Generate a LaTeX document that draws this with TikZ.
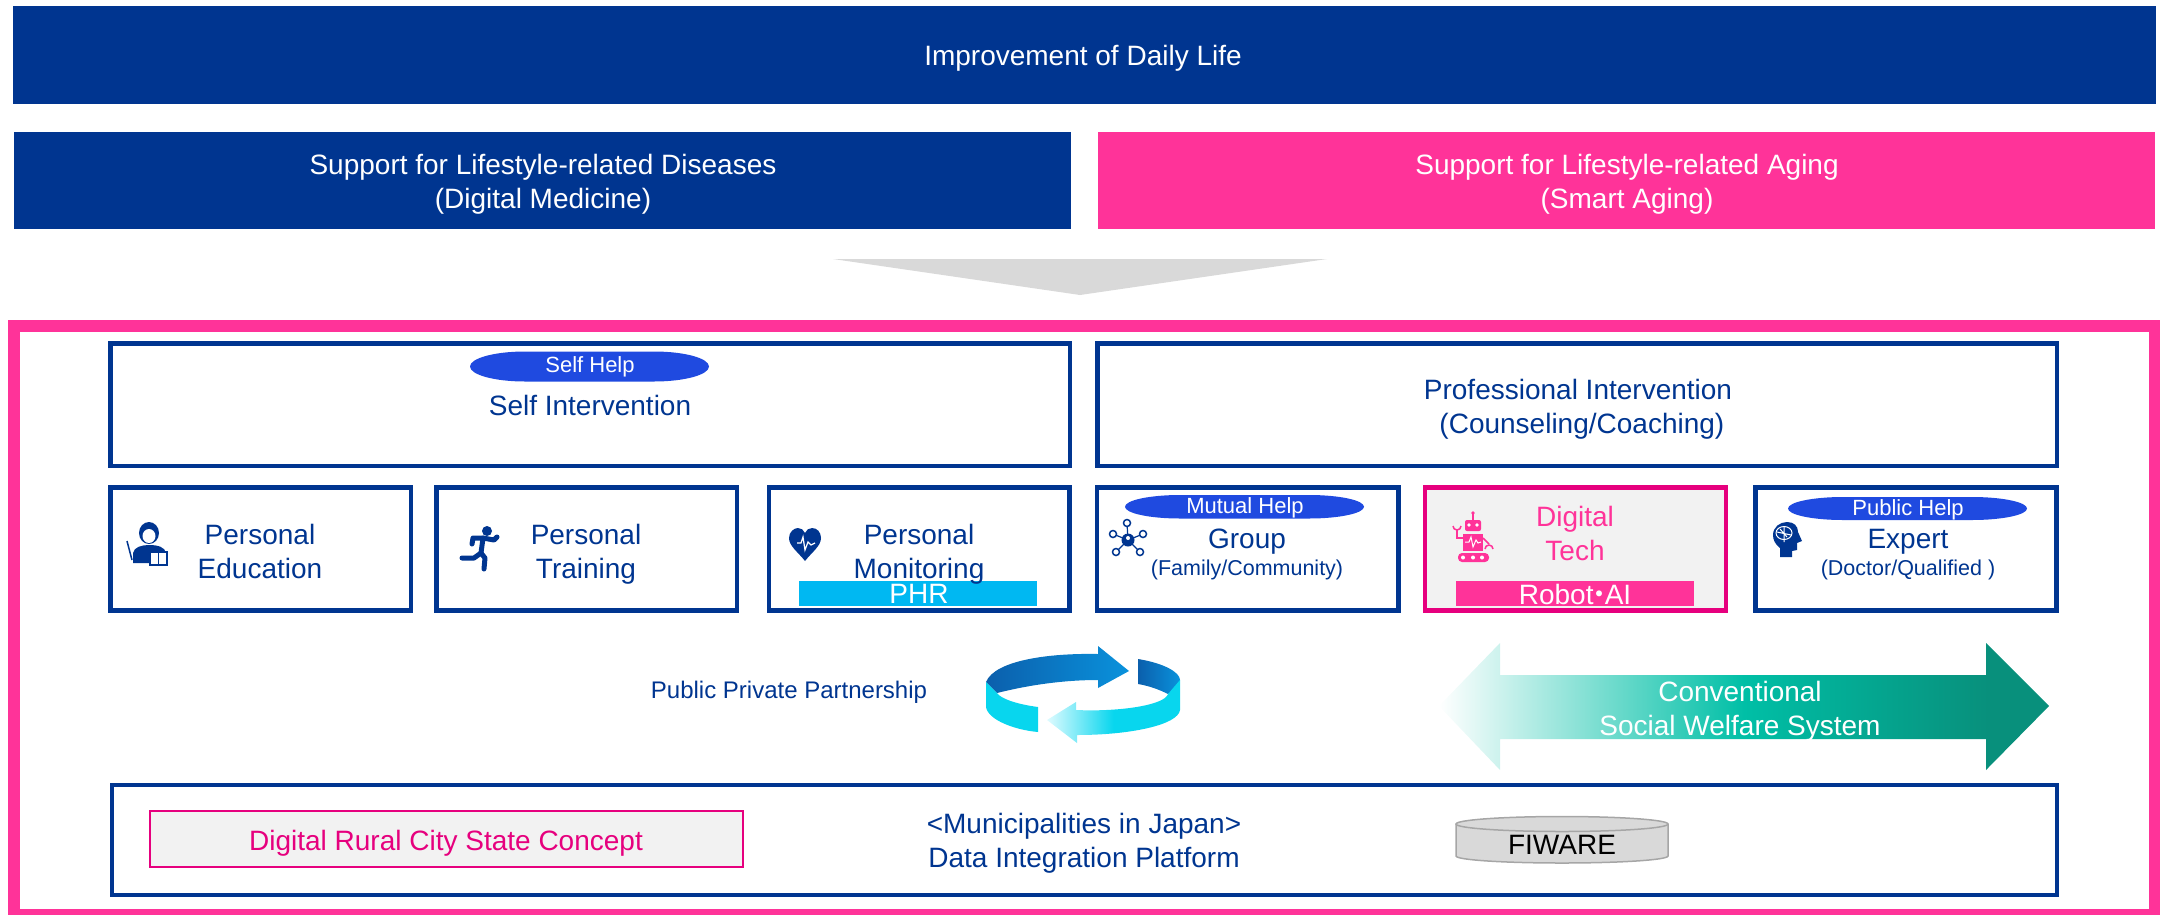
\documentclass[tikz,border=0pt]{standalone}
\usepackage{fontspec}
\setmainfont{Liberation Sans}
\newfontfamily\cjkfont{Noto Sans CJK JP}
\usepackage{tikz}
\usetikzlibrary{calc}
\definecolor{navy}{HTML}{003590}
\definecolor{hotpink}{HTML}{FF3399}
\definecolor{rosered}{HTML}{E6007E}
\definecolor{helpblue}{HTML}{1F4AE0}
\definecolor{phrblue}{HTML}{00B8F2}
\definecolor{palegrey}{HTML}{F2F2F2}
\definecolor{ringdark}{HTML}{0B5FAC}
\definecolor{ringmid}{HTML}{0A92DC}
\definecolor{ringcyan}{HTML}{08D6EE}
\definecolor{ringpale}{HTML}{DFFBFF}
\definecolor{tealmid}{HTML}{00BFA6}
\definecolor{tealdark}{HTML}{08907C}
\pgfdeclarehorizontalshading{tealfade}{100bp}{color(0bp)=(white); color(25bp)=(white); color(50bp)=(tealmid); color(70bp)=(tealdark); color(100bp)=(tealdark)}
\pgfdeclarehorizontalshading{cyanfade}{100bp}{color(0bp)=(ringpale); color(25bp)=(ringpale); color(50bp)=(ringcyan); color(100bp)=(ringcyan)}

\begin{document}
\begin{tikzpicture}[x=1pt,y=-1pt,
		bigtext/.style={font=\fontsize{28}{34}\selectfont,align=center,text=navy},
		smalltext/.style={font=\fontsize{21.5}{26}\selectfont,align=center,text=navy},
		whitetext/.style={font=\fontsize{28}{34}\selectfont,align=center,text=white},
		helptext/.style={font=\fontsize{22}{26}\selectfont,text=white},
		navybox/.style={draw=navy,line width=4.5pt},
		iconline/.style={navy,line width=5pt,line cap=round,line join=round}]
		\useasboundingbox (0,0) rectangle (2160,914);

		\fill[navy] (13,6) rectangle (2156,104);
		\fill[navy] (14,132) rectangle (1071,229);
		\fill[hotpink] (1098,132) rectangle (2155,229);
		\node[whitetext] (daily) at (1083,58) {Improvement of Daily Life};
		\node[whitetext] (diseases) at (543,184) {Support for Lifestyle-related Diseases\\(Digital Medicine)};
		\node[whitetext] (aging) at (1627,184) {Support for Lifestyle-related Aging\\(Smart Aging)};

		\fill[black!15] (833,259) -- (1327,259) -- (1080,295) -- cycle;

		\draw[hotpink,line width=12pt] (14,326) rectangle (2154.5,915);

		\draw[navybox] (110.5,343.5) rectangle (1070,466);
		\draw[navybox] (1097.5,343.5) rectangle (2057,466);
		\foreach \xa/\xb in {110.5/411,436.5/737,769/1069.5,1097/1398.5,1755.5/2056.5}
			\draw[navybox] (\xa,487.5) rectangle (\xb,610.5);
		\draw[draw=rosered,fill=palegrey,line width=4.5pt] (1425,487.5) rectangle (1726,610.5);
		\draw[navybox] (112,785) rectangle (2057,895);

		\foreach \xa/\ya/\hh in {470/351.5/30,1125/495/23.5,1788/497/23}
			\fill[helpblue] (\xa+55,\ya) -- (\xa+184,\ya) arc [start angle=-90, end angle=90, x radius=55, y radius=\hh/2] -- (\xa+55,\ya+\hh) arc [start angle=90, end angle=270, x radius=55, y radius=\hh/2] -- cycle;
		\fill[phrblue] (799,581) rectangle (1037,606);
		\fill[hotpink] (1456,581) rectangle (1694,606);

		\node[helptext] (selfhelp) at (590,367) {Self Help};
		\node[bigtext] (selfint) at (590,405) {Self Intervention};
		\node[bigtext] (profint) at (1578,409) {Professional Intervention\\~(Counseling/Coaching)};
		\node[bigtext] (education) at (260,551) {Personal\\Education};
		\node[bigtext] (training) at (586,554) {Personal\\Training};
		\node[bigtext] (monitoring) at (919,554) {Personal\\Monitoring};
		\node[whitetext] (phr) at (919,594) {PHR};
		\node[helptext] (mutual) at (1245,508) {Mutual Help};
		\node[bigtext] (group) at (1247,542) {Group};
		\node[smalltext] (family) at (1247,570) {(Family/Community)};
		\node[bigtext,text=hotpink] (digital) at (1575,533) {Digital\\Tech};
		\node[whitetext] (robot) at (1575,594) {Robot\makebox[0.4em][c]{\cjkfont ・}AI};
		\node[helptext] (public) at (1908,510) {Public Help};
		\node[bigtext] (expert) at (1908,542) {Expert};
		\node[smalltext] (doctor) at (1908,570) {(Doctor/Qualified )};

		\node[smalltext,font=\fontsize{24}{28}\selectfont] (partner) at (789,692) {Public Private Partnership};

		% ring
		\shade[left color=ringdark,right color=ringmid] (986,682) .. controls (995,660) and (1050,653) .. (1098,654) -- (1098,646) -- (1129,671) -- (1098,688) -- (1098,680) .. controls (1060,680) and (1025,686) .. (997,693) -- cycle;
		\shade[left color=ringdark,right color=ringmid] (1138,659) .. controls (1163,663) and (1180,672) .. (1180,680) .. controls (1180,686) and (1175,690) .. (1168,694) .. controls (1160,690) and (1150,686) .. (1138,684) -- cycle;
		\shade[shading=cyanfade] (1180,680) -- (1180,710) .. controls (1178,725) and (1130,735) .. (1077,735) -- (1077,743) -- (1047,720) -- (1076,702) -- (1076,710) .. controls (1120,712) and (1165,705) .. (1168,694) -- cycle;
		\fill[ringcyan] (986,682) -- (986,707) .. controls (988,720) and (1015,730) .. (1038,732) -- (1038,707) .. controls (1015,704) and (1000,698) .. (997,693) -- cycle;

		% conventional arrow
		\shade[shading=tealfade] (1439,706) -- (1500,643) -- (1500,675) -- (1986,675) -- (1986,643) -- (2049,706) -- (1986,770) -- (1986,739) -- (1500,739) -- (1500,770) -- cycle;
		\node[whitetext] (conv) at (1740,711) {Conventional\\Social Welfare System};

		\draw[draw=rosered,fill=palegrey,line width=2.5pt] (150,811) rectangle (743,867);
		\node[bigtext,text=rosered] (rural) at (446,843) {Digital Rural City State Concept};
		\node[bigtext] (muni) at (1084,843) {<Municipalities in Japan>\\Data Integration Platform};

		\draw[draw=black!35,fill=black!15,line width=1.5pt] (1456,824) -- (1456,856) arc [start angle=180, end angle=0, x radius=106, y radius=7] -- (1668,824);
		\draw[draw=black!35,fill=black!15,line width=1.5pt] (1562,824) ellipse [x radius=106, y radius=7.5];
		\node[bigtext,text=black] (fiware) at (1562,845) {FIWARE};

		% teacher
		\fill[navy] (149,533) ellipse [x radius=10, y radius=11];
		\fill[white] (149,536) ellipse [x radius=6.5, y radius=7];
		\fill[navy] (133,563) -- (133,553) .. controls (134,547) and (142,545) .. (149,545) .. controls (158,545) and (165,547) .. (166,553) -- (166,563) -- cycle;
		\draw[navy,fill=white,line width=1.5pt] (150,552) rectangle (167,565);
		\draw[navy,line width=1.5pt] (158.5,552) -- (158.5,565);
		\draw[navy,line width=1.5pt] (127,541) -- (132,560);
		% runner
		\fill[navy] (487,531) circle (5);
		\draw[iconline] (483,538) -- (481,553) -- (474,558) -- (462,558);
		\draw[iconline] (481,553) -- (485,558) -- (484,569);
		\draw[iconline] (472,544) -- (473,538) -- (483,538) -- (494,540) -- (497,537);
		% heart
		\fill[navy] (805,561) .. controls (798,552) and (789,546) .. (789,538) .. controls (789,532) and (794,528) .. (798,528) .. controls (801,528) and (804,530) .. (805,533) .. controls (806,530) and (809,528) .. (812,528) .. controls (817,528) and (821,532) .. (821,538) .. controls (821,546) and (812,552) .. (805,561) -- cycle;
		\draw[white,line width=1.2pt] (797,543) -- (801,543) -- (803,537) -- (805,550) -- (808,542) -- (811,545) -- (815,543);
		% network
		\foreach \xa/\ya in {1127/523,1113/534,1143/534,1116/552,1140/552} {
			\draw[navy,line width=1.2pt] (1128,540) -- (\xa,\ya);
			\draw[navy,fill=white,line width=1.5pt] (\xa,\ya) circle (3.5);
		}
		\fill[navy] (1128,540) circle (6.5);
		\fill[white] (1128,538) circle (2);
		% robot
		\draw[hotpink,line width=2pt] (1473,513) -- (1473,520);
		\fill[hotpink] (1473,513) circle (1.8);
		\fill[hotpink,rounded corners=2pt] (1465,520) rectangle (1481,531);
		\foreach \xa in {1469,1477}
			\fill[white] (\xa,525) circle (1.8);
		\fill[hotpink] (1463,534) rectangle (1483,551);
		\draw[white,line width=1pt] (1465,542) -- (1469,542) -- (1471,537) -- (1473,547) -- (1476,540) -- (1478,543) -- (1481,542);
		\draw[hotpink,line width=1.5pt] (1463,538) -- (1457,538) -- (1457,530);
		\draw[hotpink,line width=1.5pt] (1453,526) arc [start angle=180, end angle=0, radius=4];
		\draw[hotpink,line width=1.5pt] (1483,538) -- (1489,544);
		\draw[hotpink,line width=1.5pt] (1485,549) arc [start angle=180, end angle=360, radius=4];
		\fill[hotpink,rounded corners=4pt] (1458,553) rectangle (1489,562);
		\foreach \xa in {1463,1473,1482}
			\fill[white] (\xa,557.5) circle (2);
		% brain
		\fill[navy] (1780,557) -- (1780,548) .. controls (1775,544) and (1773,540) .. (1773,535) .. controls (1773,527) and (1780,522) .. (1787,522) .. controls (1794,522) and (1798,526) .. (1798,532) -- (1802,541) -- (1797,543) -- (1797,550) -- (1792,551) -- (1792,557) -- cycle;
		\draw[white,line width=1pt] (1784,533) ellipse [x radius=8, y radius=6.5];
		\draw[white,line width=1pt] (1784,527) -- (1784,542) (1777,532) -- (1791,535) (1780,529) -- (1787,537);
	\end{tikzpicture}
\end{document}
